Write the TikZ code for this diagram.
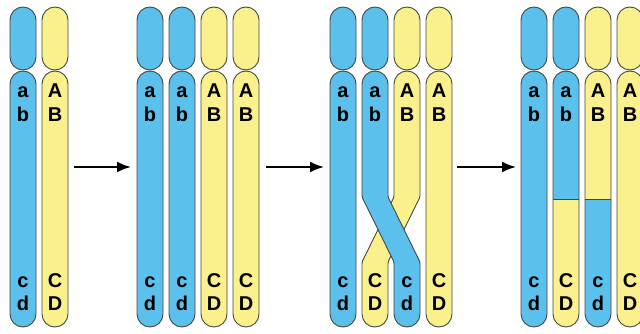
\documentclass[tikz,border=0pt]{standalone}
\usepackage{fontspec}
\setmainfont{Liberation Sans}
\usetikzlibrary{arrows.meta}
\definecolor{chrblue}{RGB}{92,192,236}
\definecolor{chryel}{RGB}{250,240,140}
\definecolor{chrline}{RGB}{70,70,70}
\tikzset{
  chrom/.style={draw=chrline, line width=0.9pt},
  gene/.style={inner sep=0pt, anchor=base, font=\fontsize{20}{20}\selectfont\bfseries},
  stepArrow/.style={line width=2pt, -{Latex[length=14pt,width=11pt]}},
}
% a plain chromatid: short arm (cap) and long arm, both stadium shaped
\newcommand\plainchrom[2]{%
  \draw[chrom, fill=#2, rounded corners=13pt] (#1,7) rectangle ++(26,63);
  \draw[chrom, fill=#2, rounded corners=13pt] (#1,71) rectangle ++(26,256);
}
% the four gene labels of a long arm
\newcommand\genes[5]{%
  \node[gene] at (#1+13,98) {#2};
  \node[gene] at (#1+13,122) {#3};
  \node[gene] at (#1+13,287) {#4};
  \node[gene] at (#1+13,310) {#5};
}
\begin{document}
\begin{tikzpicture}[x=1pt,y=-1pt]
\useasboundingbox (0,0) rectangle (640,334);
\clip (0,0) rectangle (640,334);

% ---- stage 1: two homologous chromosomes
\plainchrom{10}{chrblue}  \genes{10}{a}{b}{c}{d}
\plainchrom{42}{chryel}   \genes{42}{A}{B}{C}{D}

% ---- stage 2: replicated, four chromatids
\plainchrom{137}{chrblue} \genes{137}{a}{b}{c}{d}
\plainchrom{169}{chrblue} \genes{169}{a}{b}{c}{d}
\plainchrom{201}{chryel}  \genes{201}{A}{B}{C}{D}
\plainchrom{233}{chryel}  \genes{233}{A}{B}{C}{D}

% ---- stage 3: crossing over between the inner chromatids
\plainchrom{330}{chrblue} \genes{330}{a}{b}{c}{d}
\plainchrom{426}{chryel}  \genes{426}{A}{B}{C}{D}
\draw[chrom, fill=chrblue, rounded corners=13pt] (362,7) rectangle ++(26,63);
\draw[chrom, fill=chryel, rounded corners=13pt] (394,7) rectangle ++(26,63);
% yellow chromatid, passing underneath
\draw[chrom, fill=chryel, rounded corners=1.5pt]
  (394,197) [sharp corners] -- (394,84) arc[start angle=180,end angle=360,radius=13]
  [rounded corners=1.5pt] -- (420,197) -- (388,262)
  [sharp corners] -- (388,314) arc[start angle=0,end angle=180,radius=13]
  [rounded corners=1.5pt] -- (362,262) -- cycle;
% blue chromatid, lying on top
\draw[chrom, fill=chrblue, rounded corners=1.5pt]
  (362,197) [sharp corners] -- (362,84) arc[start angle=180,end angle=360,radius=13]
  [rounded corners=1.5pt] -- (388,197) -- (420,262)
  [sharp corners] -- (420,314) arc[start angle=0,end angle=180,radius=13]
  [rounded corners=1.5pt] -- (394,262) -- cycle;
\genes{362}{a}{b}{C}{D}
\genes{394}{A}{B}{c}{d}

% ---- stage 4: recombinant chromatids
\plainchrom{521}{chrblue} \genes{521}{a}{b}{c}{d}
\plainchrom{617}{chryel}  \genes{617}{A}{B}{C}{D}
\draw[chrom, fill=chrblue, rounded corners=13pt] (553,7) rectangle ++(26,63);
\draw[chrom, fill=chryel, rounded corners=13pt] (585,7) rectangle ++(26,63);
\fill[chrblue] (553,199) -- (553,84) arc[start angle=180,end angle=360,radius=13] -- (579,199) -- cycle;
\fill[chryel] (553,199) -- (553,314) arc[start angle=180,end angle=0,radius=13] -- (579,199) -- cycle;
\fill[chryel] (585,199) -- (585,84) arc[start angle=180,end angle=360,radius=13] -- (611,199) -- cycle;
\fill[chrblue] (585,199) -- (585,314) arc[start angle=180,end angle=0,radius=13] -- (611,199) -- cycle;
\draw[chrom, rounded corners=13pt] (553,71) rectangle ++(26,256);
\draw[chrom, rounded corners=13pt] (585,71) rectangle ++(26,256);
\draw[chrom] (553,199) -- (579,199);
\draw[chrom] (585,199) -- (611,199);
\genes{553}{a}{b}{C}{D}
\genes{585}{A}{B}{c}{d}

% ---- arrows between the stages
\coordinate (s1) at (74,167);  \coordinate (e1) at (131,167);
\coordinate (s2) at (266,167); \coordinate (e2) at (324,167);
\coordinate (s3) at (457,167); \coordinate (e3) at (516,167);
\draw[stepArrow] (s1) -- (e1);
\draw[stepArrow] (s2) -- (e2);
\draw[stepArrow] (s3) -- (e3);
\end{tikzpicture}
\end{document}
